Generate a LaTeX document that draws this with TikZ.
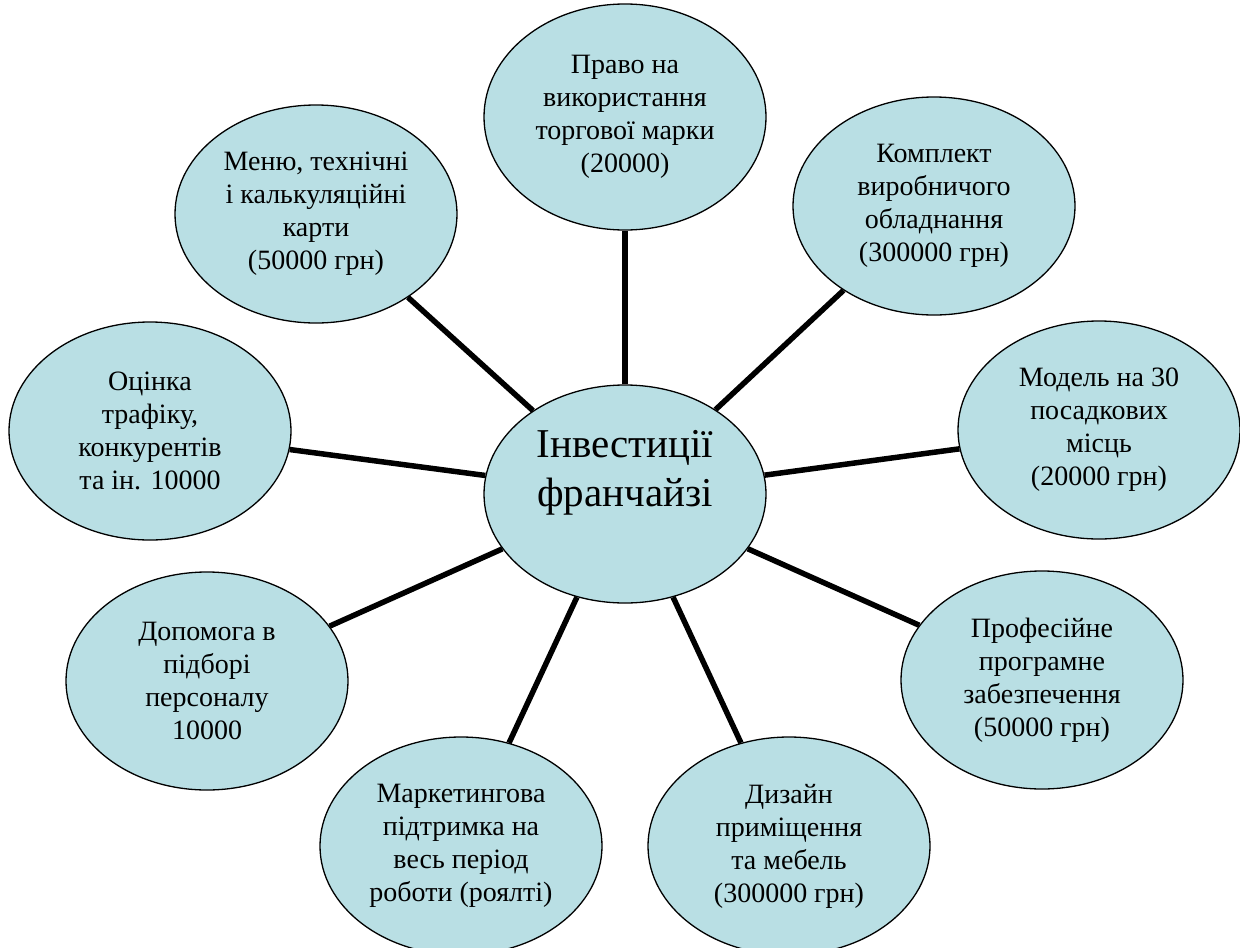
\documentclass[tikz,border=0pt]{standalone}
\usepackage{fontspec}
\setmainfont{Liberation Serif}
\usetikzlibrary{shapes.geometric}
\pgfdeclarelayer{bg}
\pgfsetlayers{bg,main}
\definecolor{bubblefill}{RGB}{185,223,228}
\begin{document}
\begin{tikzpicture}[x=1pt,y=-1pt,
  bubble/.style={ellipse, draw=black, line width=1.3pt, fill=bubblefill,
    minimum width=282pt, minimum height=218pt, inner sep=0pt,
    align=center, font=\fontsize{28}{33}\selectfont},
  bigtext/.style={align=center, inner sep=0pt, font=\fontsize{41}{49}\selectfont},
  link/.style={line width=5.5pt, draw=black}]
\useasboundingbox (0,0) rectangle (1240,948);

\node[bubble] (c) at (625,494) {};
\node[bigtext] (ctext) at (625,473) {Інвестиції\\франчайзі};

\node[bubble, minimum height=226pt] (top) at (625,117) {Право на\\використання\\торгової марки\\(20000)};
\node[bubble] (menu) at (316,214) {Меню, технічні\\і калькуляційні\\карти\\(50000 грн)};
\node[bubble] (kompl) at (934,206) {Комплект\\виробничого\\обладнання\\(300000 грн)};
\node[bubble] (otsinka) at (150,431) {Оцінка\\трафіку,\\конкурентів\\та ін. 10000};
\node[bubble] (model) at (1099,430) {Модель на 30\\посадкових\\місць\\(20000 грн)};
\node[bubble] (dopom) at (207,681) {Допомога в\\підборі\\персоналу\\10000};
\node[bubble] (prof) at (1042,680) {Професійне\\програмне\\забезпечення\\(50000 грн)};
\node[bubble] (market) at (461,846) {Маркетингова\\підтримка на\\весь період\\роботи (роялті)};
\node[bubble] (dyzain) at (789,846) {Дизайн\\приміщення\\та мебель\\(300000 грн)};

\begin{pgfonlayer}{bg}
\draw[link] (c) -- (top);
\draw[link] (c) -- (menu);
\draw[link] (c) -- (kompl);
\draw[link] (c) -- (otsinka);
\draw[link] (c) -- (model);
\draw[link] (c) -- (dopom);
\draw[link] (c) -- (prof);
\draw[link] (c) -- (market);
\draw[link] (c) -- (dyzain);
\end{pgfonlayer}
\end{tikzpicture}
\end{document}
